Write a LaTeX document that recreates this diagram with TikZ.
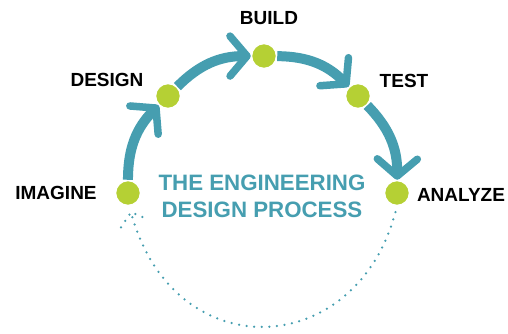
\documentclass[tikz,border=0pt]{standalone}
\usepackage{fontspec}
\setmainfont{Liberation Sans}
\usetikzlibrary{arrows.meta,calc}
\definecolor{edpteal}{RGB}{70,158,176}
\definecolor{edpgreen}{RGB}{181,208,52}
\tikzset{%
  stepdot/.style   = {circle, fill=edpgreen, draw=white, line width=1.5pt,%
                      inner sep=0pt, minimum size=25pt},%
  steplabel/.style = {font=\fontsize{19}{19}\selectfont\bfseries, text=black,%
                      inner sep=0pt},%
  flow/.style      = {draw=edpteal, line width=10pt,%
                      -{Straight Barb[length=17pt,width=40pt,line width=7.5pt,round]}},%
  loopback/.style  = {draw=edpteal, line width=2.5pt, line cap=round,%
                      dash pattern=on 0pt off 7.6pt}%
}
\begin{document}
\begin{tikzpicture}
[x=1pt,y=1pt,title/.style={font=\fontsize{22.3}{27}\selectfont\bfseries, text=edpteal, align=center}]
	\useasboundingbox (0,0) rectangle (508,-333);
	% steps on the wheel
	\node [stepdot] (img) at (128,-193) {};
	\node [stepdot] (des) at (168,-96) {};
	\node [stepdot] (bld) at (264,-56) {};
	\node [stepdot] (tst) at (358,-96) {};
	\node [stepdot] (ana) at (397,-193) {};
	\node [steplabel] at (56,-193) {IMAGINE};
	\node [steplabel] at (107,-80) {DESIGN};
	\node [steplabel] at (269,-18) {BUILD};
	\node [steplabel] at (404,-81) {TEST};
	\node [steplabel] at (461,-195) {ANALYZE};
	\node [title] at (262,-196) {THE ENGINEERING\\DESIGN PROCESS};
	% the arrows between steps
	\draw [flow] (img) to[bend left=22.5] (des);
	\draw [flow] (des) to[bend left=22.5] (bld);
	\draw [flow] (bld) to[bend left=22.5] (tst);
	\draw [flow] (tst) to[bend left=22.5] (ana);
	% back round to imagine
	\coordinate (tip) at ([xshift=3pt,yshift=-6pt]img.south);
	\draw [loopback,shorten <=6pt] (ana.south) to[out=-105,in=-75,looseness=1.55] (tip);
	\draw [loopback] ([xshift=-10pt,yshift=-15pt]tip) -- (tip) -- ([xshift=17pt,yshift=-7pt]tip);
\end{tikzpicture}
\end{document}
